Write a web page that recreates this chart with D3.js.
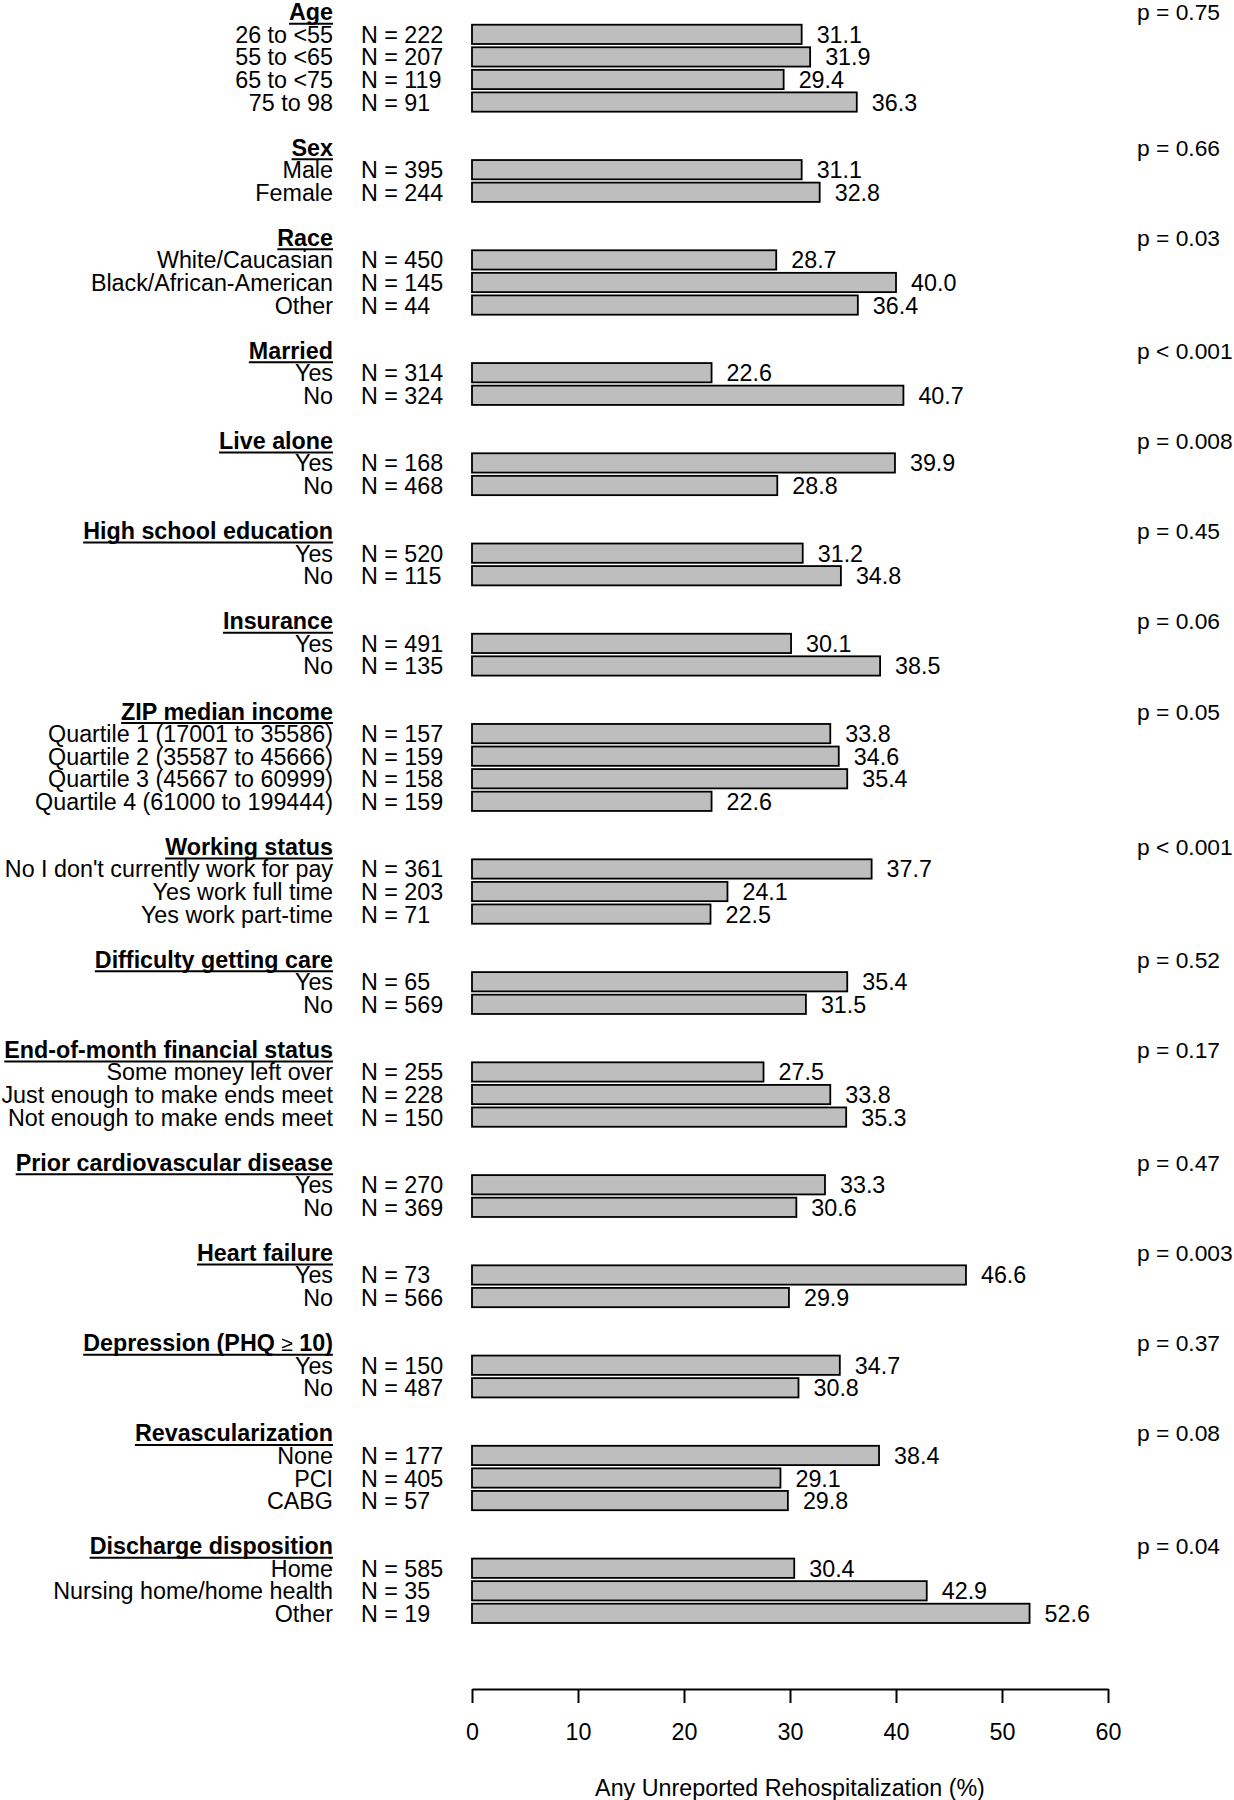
<!DOCTYPE html>
<html>
<head>
<meta charset="utf-8">
<script src="https://cdn.jsdelivr.net/npm/d3@7/dist/d3.min.js"></script>
<style>
  html, body { margin: 0; padding: 0; background: #fff; }
  svg { display: block; }
  text { font-family: "Liberation Sans", Arial, Helvetica, sans-serif; fill: #000; }
</style>
</head>
<body>
<svg id="chart" width="1234" height="1800"></svg>
<script>
// ---------- DATA ----------
const groups = [
  "Age", "Sex", "Race", "Married", "Live alone", "High school education",
  "Insurance", "ZIP median income", "Working status", "Difficulty getting care",
  "End-of-month financial status", "Prior cardiovascular disease", "Heart failure",
  "Depression (PHQ \u2265 10)", "Revascularization", "Discharge disposition"
];
const pLabels = [
  "p = 0.75", "p = 0.66", "p = 0.03", "p < 0.001", "p = 0.008", "p = 0.45",
  "p = 0.06", "p = 0.05", "p < 0.001", "p = 0.52", "p = 0.17", "p = 0.47",
  "p = 0.003", "p = 0.37", "p = 0.08", "p = 0.04"
];
const rowLabels = [
  ["26 to <55", "55 to <65", "65 to <75", "75 to 98"],
  ["Male", "Female"],
  ["White/Caucasian", "Black/African-American", "Other"],
  ["Yes", "No"],
  ["Yes", "No"],
  ["Yes", "No"],
  ["Yes", "No"],
  ["Quartile 1 (17001 to 35586)", "Quartile 2 (35587 to 45666)", "Quartile 3 (45667 to 60999)", "Quartile 4 (61000 to 199444)"],
  ["No I don't currently work for pay", "Yes work full time", "Yes work part-time"],
  ["Yes", "No"],
  ["Some money left over", "Just enough to make ends meet", "Not enough to make ends meet"],
  ["Yes", "No"],
  ["Yes", "No"],
  ["Yes", "No"],
  ["None", "PCI", "CABG"],
  ["Home", "Nursing home/home health", "Other"]
];
const nValues = [
  [222, 207, 119, 91],
  [395, 244],
  [450, 145, 44],
  [314, 324],
  [168, 468],
  [520, 115],
  [491, 135],
  [157, 159, 158, 159],
  [361, 203, 71],
  [65, 569],
  [255, 228, 150],
  [270, 369],
  [73, 566],
  [150, 487],
  [177, 405, 57],
  [585, 35, 19]
];
const pctValues = [
  [31.1, 31.9, 29.4, 36.3],
  [31.1, 32.8],
  [28.7, 40.0, 36.4],
  [22.6, 40.7],
  [39.9, 28.8],
  [31.2, 34.8],
  [30.1, 38.5],
  [33.8, 34.6, 35.4, 22.6],
  [37.7, 24.1, 22.5],
  [35.4, 31.5],
  [27.5, 33.8, 35.3],
  [33.3, 30.6],
  [46.6, 29.9],
  [34.7, 30.8],
  [38.4, 29.1, 29.8],
  [30.4, 42.9, 52.6]
];
const xTicks = [0, 10, 20, 30, 40, 50, 60];
const xTitle = "Any Unreported Rehospitalization (%)";

// ---------- LAYOUT ----------
const FS = 23.3;
const labelRight = 333;
const nLeft = 361;
const pLeft = 1137;
const barFill = "#bebebe";

// Build slot list: header slot, row slots, blank slot between groups
const headers = [];
const rows = [];
let k = 0;
groups.forEach((g, gi) => {
  headers.push({ gi, name: g, p: pLabels[gi], slot: k });
  k++;
  rowLabels[gi].forEach((lab, ri) => {
    rows.push({ gi, label: lab, n: nValues[gi][ri], v: pctValues[gi][ri], slot: k });
    k++;
  });
  k++; // blank
});
const nSlots = k - 1;

const x = d3.scaleLinear().domain([0, 60]).range([472, 1108]);
const y = d3.scaleLinear().domain([0, nSlots - 1]).range([11.8, 11.8 + (nSlots - 1) * 22.557]);
const barH = 19.3;

const svg = d3.select("#chart");
svg.append("rect").attr("width", 1234).attr("height", 1800).attr("fill", "#fff");

// Bars
svg.append("g").selectAll("rect").data(rows).join("rect")
  .attr("x", x(0))
  .attr("y", d => y(d.slot) - barH / 2)
  .attr("width", d => x(d.v) - x(0))
  .attr("height", barH)
  .attr("fill", barFill)
  .attr("stroke", "#000")
  .attr("stroke-width", 1.8);

// Value labels
svg.append("g").selectAll("text").data(rows).join("text")
  .attr("x", d => x(d.v) + 15)
  .attr("y", d => y(d.slot) + 8.5)
  .attr("font-size", FS)
  .text(d => d.v.toFixed(1));

// Row labels
svg.append("g").selectAll("text").data(rows).join("text")
  .attr("x", labelRight)
  .attr("y", d => y(d.slot) + 8.5)
  .attr("text-anchor", "end")
  .attr("font-size", FS)
  .text(d => d.label);

// N labels
svg.append("g").selectAll("text").data(rows).join("text")
  .attr("x", nLeft)
  .attr("y", d => y(d.slot) + 8.5)
  .attr("font-size", FS)
  .text(d => "N = " + d.n);

// Group headers (bold, underlined)
const hg = svg.append("g");
headers.forEach(h => {
  const t = hg.append("text")
    .attr("x", labelRight)
    .attr("y", y(h.slot) + 8.5)
    .attr("text-anchor", "end")
    .attr("font-size", FS)
    .attr("font-weight", "bold");
  if (h.name.indexOf("\u2265") >= 0) {
    const parts = h.name.split("\u2265");
    t.append("tspan").text(parts[0]);
    t.append("tspan").attr("font-weight", "normal").attr("font-size", FS * 0.9).text("\u2265");
    t.append("tspan").text(parts[1]);
  } else {
    t.text(h.name);
  }
  const w = t.node().getComputedTextLength();
  hg.append("line")
    .attr("x1", labelRight - w).attr("x2", labelRight)
    .attr("y1", y(h.slot) + 12).attr("y2", y(h.slot) + 12)
    .attr("stroke", "#000").attr("stroke-width", 2);
  // p-value
  svg.append("text")
    .attr("x", pLeft)
    .attr("y", y(h.slot) + 8.5)
    .attr("font-size", 22.8)
    .text(h.p);
});

// Axis
const axisY = 1689;
const axis = d3.axisBottom(x).tickValues(xTicks).tickFormat(d3.format("d"))
  .tickSize(14).tickSizeOuter(0).tickPadding(20.5);
const ag = svg.append("g").attr("transform", `translate(0,${axisY})`).call(axis);
ag.selectAll("path, line").attr("stroke", "#000").attr("stroke-width", 2);
ag.selectAll("text").attr("font-size", FS).attr("fill", "#000")
  .style("font-family", '"Liberation Sans", Arial, Helvetica, sans-serif');

svg.append("text")
  .attr("x", (x(0) + x(60)) / 2)
  .attr("y", 1796)
  .attr("text-anchor", "middle")
  .attr("font-size", FS)
  .text(xTitle);
</script>
</body>
</html>
